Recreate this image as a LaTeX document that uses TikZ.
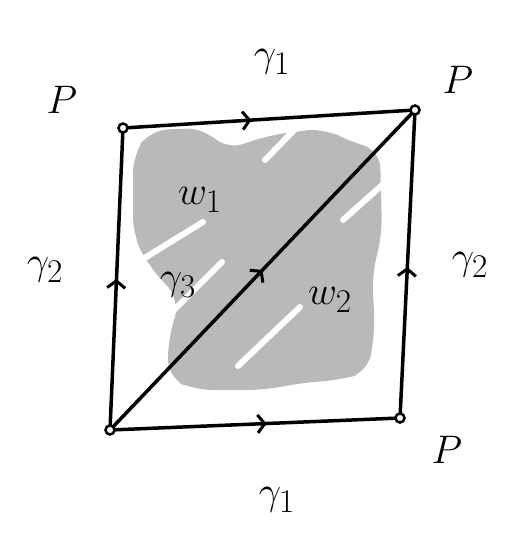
\documentclass[tikz,border=0pt]{standalone}
\usetikzlibrary{arrows.meta,decorations.markings}
\definecolor{shadegray}{RGB}{185,185,185}
\begin{document}
\begin{tikzpicture}[x=1pt, y=-1pt]
  \tikzset{
    corner/.style={circle, draw, fill=white, line width=2.5pt, inner sep=0pt, minimum size=9pt},
    edge/.style={line width=3.5pt, line cap=round},
    midarrow/.style={postaction={decorate, decoration={markings,
        mark=at position #1 with {\arrow[line width=3pt]{Straight Barb[length=7pt, width=18pt]}}}}},
    lbl/.style={font=\Huge, scale=1.6},
    slit/.style={draw=white, line width=6pt, line cap=round},
  }
  \useasboundingbox (0,0) rectangle (507,551);
  % gray shading
  \fill[shadegray, rounded corners=18pt] (133,155) -- (150,130) -- (205,128) -- (225,150)
    -- (270,135) -- (325,128) -- (345,140) -- (380,150) -- (382,235) -- (372,275)
    -- (375,330) -- (368,372) -- (340,380) -- (300,383) -- (265,390) -- (195,390)
    -- (168,378) -- (168,340) -- (180,300) -- (148,265) -- (133,235) -- cycle;
  \foreach \ax/\ay/\bx/\by in {138/262/203/222, 168/316/222/262, 238/366/300/307,
                              265/160/300/124, 343/220/390/178}{
    \draw[slit] (\ax,\ay) -- (\bx,\by);
  }
  % corners
  \coordinate (tl) at (123,128);
  \coordinate (tr) at (415,110);
  \coordinate (br) at (400,418);
  \coordinate (bl) at (110,430);
  % edges
  \draw[edge, midarrow=0.44] (tl) -- (tr);
  \draw[edge, midarrow=0.54] (bl) -- (br);
  \draw[edge, midarrow=0.5]  (bl) -- (tl);
  \draw[edge, midarrow=0.49] (br) -- (tr);
  \draw[edge, midarrow=0.5]  (bl) -- (tr);
  \foreach \c in {tl,tr,br,bl}{
    \node[corner] at (\c) {};
  }
  % labels
  \node[lbl] (ptl) at (62,100)  {$P$};
  \node[lbl] (ptr) at (458,80)  {$P$};
  \node[lbl] (pbr) at (447,450) {$P$};
  \node[lbl] (gat) at (272,62)  {$\gamma_1$};
  \node[lbl] (gab) at (277,500) {$\gamma_1$};
  \node[lbl] (gbl) at (45,270)  {$\gamma_2$};
  \node[lbl] (gbr) at (470,265) {$\gamma_2$};
  \node[lbl] (gc)  at (178,285) {$\gamma_3$};
  \node[lbl] (wa)  at (200,200) {$w_1$};
  \node[lbl] (wb)  at (330,300) {$w_2$};
\end{tikzpicture}
\end{document}
